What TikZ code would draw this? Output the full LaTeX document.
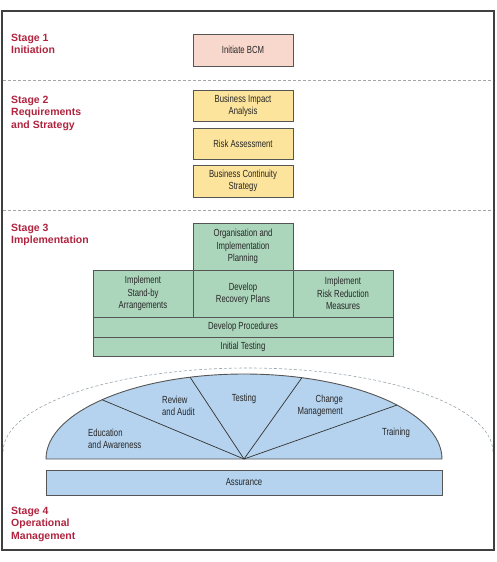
\documentclass[tikz,border=0pt]{standalone}
\usepackage{fontspec}
\setsansfont{Liberation Sans}
\newfontfamily\boxfont[FakeStretch=0.75]{Liberation Sans}
\usepackage{xcolor}
\usetikzlibrary{positioning}

\definecolor{stagered}{HTML}{B0243F}
\definecolor{boxline}{HTML}{555555}
\definecolor{arcline}{HTML}{98A6AE}
\definecolor{initfill}{HTML}{F8D8CC}
\definecolor{reqfill}{HTML}{FCE49C}
\definecolor{implfill}{HTML}{ACD6BC}
\definecolor{opfill}{HTML}{B5D3EE}

\begin{document}
\begin{tikzpicture}[x=1pt, y=-1pt,
    box/.style={draw=boxline, line width=0.9pt, align=center, inner sep=0pt, text=black!85, font=\boxfont\fontsize{10.3}{12.3}\selectfont},
    stage/.style={anchor=north west, align=left, inner sep=0pt, text=stagered, font=\sffamily\bfseries\fontsize{10.5}{12.4}\selectfont},
    sep/.style={draw=black!35, line width=0.6pt, dash pattern=on 3pt off 2pt},
    lbl/.style={inner sep=0pt, text=black!85, font=\boxfont\fontsize{10.3}{12.3}\selectfont}
]
\useasboundingbox (0,0) rectangle (496,562);

% Stage separators
\draw[sep] (3,80) -- (493,80);
\draw[sep] (3,210) -- (493,210);

% Stage 1
\node[stage] (st1) at (11,34) {Stage 1\\Initiation};
\node[box, fill=initfill, minimum width=100pt, minimum height=32pt] (init) at (243,50) {Initiate BCM};

% Stage 2
\node[stage] (st2) at (11,96) {Stage 2\\Requirements\\and Strategy};
\node[box, fill=reqfill, minimum width=100pt, minimum height=31pt] (bia) at (243,105.5) {Business Impact\\Analysis};
\node[box, fill=reqfill, minimum width=100pt, minimum height=31pt] (risk) at (243,143.5) {Risk Assessment};
\node[box, fill=reqfill, minimum width=100pt, minimum height=32pt] (bcs) at (243,181) {Business Continuity\\Strategy};

% Stage 3
\node[stage] (st3) at (11,224) {Stage 3\\Implementation};
\node[box, fill=implfill, minimum width=100pt, minimum height=47pt] (plan) at (243,246.5) {Organisation and\\Implementation\\Planning};
\node[box, fill=implfill, minimum width=100pt, minimum height=47pt] (standby) at (143,293.5) {Implement\\Stand-by\\Arrangements};
\node[box, fill=implfill, minimum width=100pt, minimum height=47pt] (recovery) at (243,293.5) {Develop\\Recovery Plans};
\node[box, fill=implfill, minimum width=100pt, minimum height=47pt] (reduce) at (343,293.5) {Implement\\Risk Reduction\\Measures};
\node[box, fill=implfill, minimum width=300pt, minimum height=20pt] (proc) at (243,327) {Develop Procedures};
\node[box, fill=implfill, minimum width=300pt, minimum height=19pt] (itest) at (243,346.5) {Initial Testing};

% Stage 4
\draw[sep, draw=arcline] (3,452) arc[start angle=180, end angle=360, x radius=245, y radius=84];
\draw[draw=boxline, line width=0.9pt, fill=opfill] (46,459) arc[start angle=180, end angle=360, x radius=198, y radius=85] -- cycle;
\coordinate (hub) at (244,459);
\coordinate (s1) at ([shift={(-135.8:198 and 85)}]hub);
\coordinate (s2) at ([shift={(-105.8:198 and 85)}]hub);
\coordinate (s3) at ([shift={(-73:198 and 85)}]hub);
\coordinate (s4) at ([shift={(-39.4:198 and 85)}]hub);
\foreach \s in {s1,s2,s3,s4}
    \draw[black!80, line width=0.7pt] (hub) -- (\s);
\node[lbl, anchor=west, align=left] (edu) at (88,439) {Education\\and Awareness};
\node[lbl, anchor=west, align=left] (audit) at (162,406) {Review\\and Audit};
\node[lbl] (testing) at (244,399) {Testing};
\node[lbl, anchor=east, align=right] (change) at (343,406) {Change\\Management};
\node[lbl] (training) at (396,433) {Training};
\node[box, fill=opfill, minimum width=396pt, minimum height=25pt] (assure) at (244,482.5) {Assurance};
\node[stage] (st4) at (11,507) {Stage 4\\Operational\\Management};

% Frame
\draw[black!75, line width=1.6pt] (2,11) rectangle (494,550);
\end{tikzpicture}
\end{document}
